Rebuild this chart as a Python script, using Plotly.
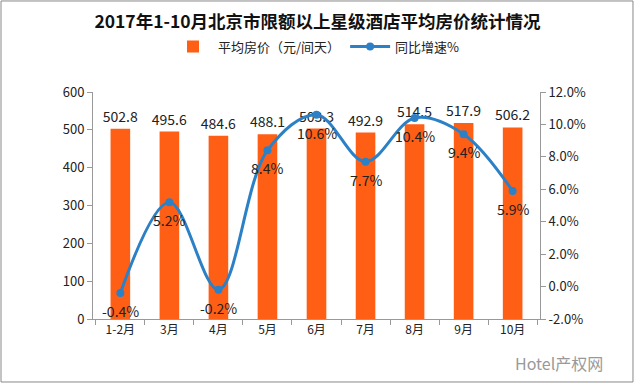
import plotly.graph_objects as go

categories = ["1-2月", "3月", "4月", "5月", "6月", "7月", "8月", "9月", "10月"]
avg_price = [502.8, 495.6, 484.6, 488.1, 503.3, 492.9, 514.5, 517.9, 506.2]
yoy_growth = [-0.4, 5.2, -0.2, 8.4, 10.6, 7.7, 10.4, 9.4, 5.9]
left_ticks = [0, 100, 200, 300, 400, 500, 600]
right_ticks = [-2, 0, 2, 4, 6, 8, 10, 12]

FONT = "Noto Sans CJK SC"
ORANGE = "#FF5F15"
BLUE = "#2C80C6"

fig = go.Figure()
fig.add_trace(go.Bar(
    x=categories, y=avg_price, name="平均房价（元/间天）",
    marker=dict(color=ORANGE, line=dict(width=0)),
    text=[f"{v:.1f}" for v in avg_price], textposition="outside",
    constraintext="none",
    textfont=dict(family=FONT, size=14, color="#222"),
    cliponaxis=False,
))
fig.add_trace(go.Scatter(
    x=categories, y=yoy_growth, name="同比增速%", yaxis="y2",
    mode="lines+markers",
    line=dict(color=BLUE, width=3, shape="spline", smoothing=1.0),
    marker=dict(color=BLUE, size=8),
    cliponaxis=False,
))

annotations = []
for c, v in zip(categories, yoy_growth):
    annotations.append(dict(x=c, y=v, xref="x", yref="y2", text=f"{v:.1f}%",
                            showarrow=False, yshift=-18,
                            font=dict(family=FONT, size=14, color="#222")))
annotations.append(dict(text="Hotel产权网", xref="paper", yref="paper", x=1.145, y=-0.194,
                        showarrow=False, xanchor="right", yanchor="middle",
                        font=dict(family=FONT, size=16, color="#999")))

fig.update_layout(
    width=635, height=384,
    margin=dict(l=93, r=95, t=92, b=65),
    paper_bgcolor="white", plot_bgcolor="white",
    font=dict(family=FONT, size=12, color="#222"),
    title=dict(text="<b>2017年1-10月北京市限额以上星级酒店平均房价统计情况</b>",
               x=0.5, xanchor="center", y=0.943, yanchor="middle",
               font=dict(family=FONT, size=17.5, color="#111")),
    legend=dict(orientation="h", x=0.5, xanchor="center", y=1.2, yanchor="middle",
                font=dict(family=FONT, size=13, color="#222"), itemwidth=40),
    bargap=0.6,
    showlegend=True,
    xaxis=dict(type="category", showline=True, linecolor="#999", linewidth=1,
               ticks="outside", tickson="boundaries", ticklen=5, tickcolor="#999",
               tickfont=dict(family=FONT, size=12), showgrid=False),
    yaxis=dict(range=[0, 600], tickvals=left_ticks, showline=True, linecolor="#999",
               linewidth=1, ticks="outside", ticklen=5, tickcolor="#999",
               showgrid=False, zeroline=False, tickfont=dict(family=FONT, size=13)),
    yaxis2=dict(range=[-2, 12], tickvals=right_ticks,
                ticktext=[f"{v:.1f}%" for v in right_ticks],
                overlaying="y", side="right", showline=True, linecolor="#999",
                linewidth=1, ticks="outside", ticklen=5, tickcolor="#999",
                showgrid=False, zeroline=False, tickfont=dict(family=FONT, size=13)),
    shapes=[dict(type="rect", xref="paper", yref="paper", x0=-0.2058, x1=1.208,
                 y0=-0.2775, y1=1.401, line=dict(color="#888", width=1))],
    annotations=annotations,
)

fig.write_html("out.html", config={"displayModeBar": False},
               post_script="document.body.style.margin='0';")
